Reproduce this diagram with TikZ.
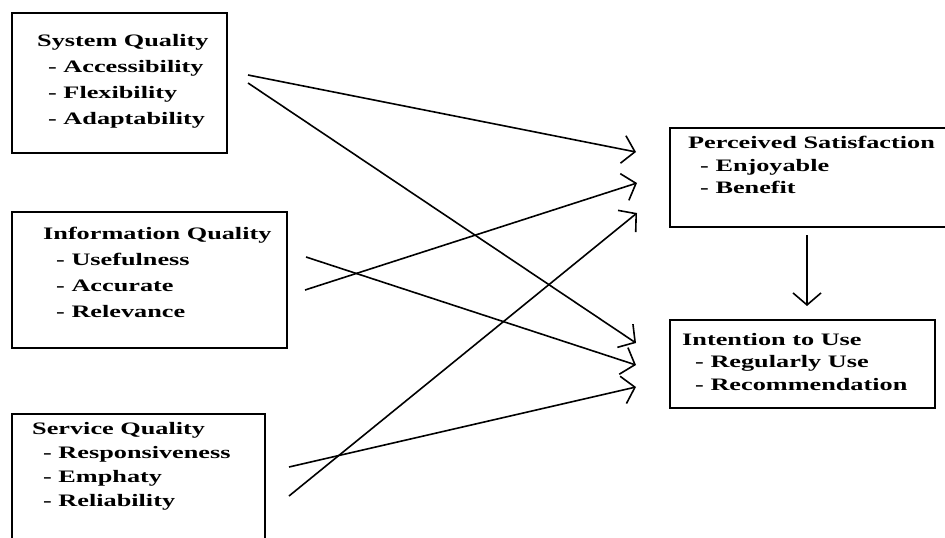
\documentclass[tikz,border=0pt]{standalone}
\usepackage{fontspec}
\setmainfont{Liberation Serif}[FakeStretch=1.5]
\usepackage{tikz}
\usetikzlibrary{arrows.meta,positioning}

\begin{document}
\begin{tikzpicture}[x=1pt,y=-1pt,
    qbox/.style={draw,line width=2pt,inner sep=0pt},
    qtext/.style={anchor=north west,inner sep=0pt,align=left,
        font=\bfseries\fontsize{17.5}{26}\selectfont},
    arr/.style={line width=1.6pt,-{Straight Barb[length=12pt,width=28pt]}}]
    \clip (0,0) rectangle (945,538);

    % Quality boxes (left)
    \node[qbox,minimum width=215pt,minimum height=140pt] (sys) at (119.5,83) {};
    \node[qbox,minimum width=275pt,minimum height=136pt] (info) at (149.5,280) {};
    \node[qbox,minimum width=253pt,minimum height=146pt] (serv) at (138.5,487) {};

    % Outcome boxes (right)
    \node[qbox,minimum width=295pt,minimum height=99pt] (sat) at (817.5,177.5) {};
    \node[qbox,minimum width=265pt,minimum height=88pt] (use) at (802.5,364) {};

    % Texts
    \node[qtext] (sysT) at (37,34) {System Quality\\
        \hspace*{11pt}- Accessibility\\ \hspace*{11pt}- Flexibility\\ \hspace*{11pt}- Adaptability};
    \node[qtext] (infoT) at (43,227) {Information Quality\\
        \hspace*{13pt}- Usefulness\\ \hspace*{13pt}- Accurate\\ \hspace*{13pt}- Relevance};
    \node[qtext,font=\bfseries\fontsize{17.5}{24}\selectfont] (servT) at (32,422) {Service Quality\\
        \hspace*{11pt}- Responsiveness\\ \hspace*{11pt}- Emphaty\\ \hspace*{11pt}- Reliability};
    \node[qtext,font=\bfseries\fontsize{17.5}{22.5}\selectfont] (satT) at (688,136) {Perceived Satisfaction\\
        \hspace*{12pt}- Enjoyable\\ \hspace*{12pt}- Benefit};
    \node[qtext,font=\bfseries\fontsize{17.5}{22.5}\selectfont] (useT) at (682,333) {Intention to Use\\
        \hspace*{13pt}- Regularly Use\\ \hspace*{13pt}- Recommendation};

    % Arrow ends
    \coordinate (sysA) at (248,75);
    \coordinate (sysB) at (248,83);
    \coordinate (infoA) at (306,257);
    \coordinate (infoB) at (305,290);
    \coordinate (servA) at (289,467);
    \coordinate (servB) at (289,496);
    \coordinate (satA) at (636,152);
    \coordinate (satB) at (637,183);
    \coordinate (satC) at (637,213);
    \coordinate (useA) at (636,343);
    \coordinate (useB) at (636,365);
    \coordinate (useC) at (636,387);
    \coordinate (satOut) at (807,235);
    \coordinate (useIn) at (807,306);

    % Arrows
    \draw[arr] (sysA) -- (satA);
    \draw[arr] (sysB) -- (useA);
    \draw[arr] (infoB) -- (satB);
    \draw[arr] (infoA) -- (useB);
    \draw[arr] (servB) -- (satC);
    \draw[arr] (servA) -- (useC);
    \draw[arr] (satOut) -- (useIn);
\end{tikzpicture}
\end{document}
